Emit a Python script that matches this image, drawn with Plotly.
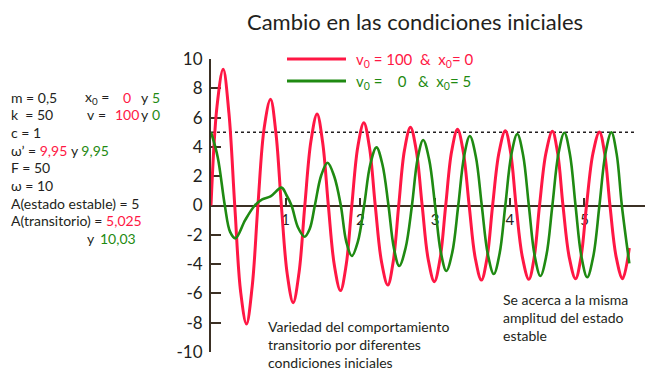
import plotly.graph_objects as go

# ---------------- data ----------------
# red: v0 = 100 & x0 = 0
red_t = [0, 0.081, 0.163, 0.240, 0.318, 0.397, 0.475, 0.552, 0.628, 0.712,
         0.797, 0.870, 0.942, 1.021, 1.10, 1.178, 1.256, 1.338, 1.42, 1.495,
         1.571, 1.652, 1.733, 1.81, 1.885, 1.965, 2.046, 2.122, 2.199, 2.283,
         2.367, 2.44, 2.513, 2.59, 2.67, 2.748, 2.827, 2.908, 2.99, 3.066,
         3.142, 3.221, 3.30, 3.378, 3.456, 3.538, 3.62, 3.695, 3.77, 3.855,
         3.94, 4.012, 4.084, 4.17, 4.255, 4.326, 4.398, 4.484, 4.57, 4.641,
         4.712, 4.796, 4.88, 4.953, 5.027, 5.113, 5.20, 5.27, 5.341, 5.425,
         5.51, 5.60]
red_x = [0, 6.8, 9.30, 6.3, 0, -5.9, -8.09, -5.5, 0, 5.3,
         7.25, 4.9, 0, -4.7, -6.63, -4.6, 0, 4.4, 6.25, 4.3,
         0, -4.1, -5.81, -4.05, 0, 4.0, 5.65, 3.95, 0, -3.85,
         -5.43, -3.8, 0, 3.78, 5.34, 3.75, 0, -3.68, -5.20, -3.66,
         0, 3.68, 5.20, 3.64, 0, -3.6, -5.09, -3.6, 0, 3.6,
         5.10, 3.58, 0, -3.56, -5.04, -3.56, 0, 3.58, 5.06, 3.56,
         0, -3.54, -5.00, -3.54, 0, 3.55, 5.02, 3.55, 0, -3.54,
         -5.00, -2.9]

# green: v0 = 0 & x0 = 5
green_t = [0, 0.09, 0.185, 0.256, 0.328, 0.457, 0.586, 0.685, 0.797, 0.944,
           1.011, 1.078, 1.165, 1.252, 1.321, 1.39, 1.475, 1.56, 1.649, 1.738,
           1.81, 1.885, 1.967, 2.05, 2.132, 2.215, 2.295, 2.376, 2.448, 2.52,
           2.605, 2.69, 2.765, 2.84, 2.92, 3.0, 3.075, 3.15, 3.23, 3.31,
           3.388, 3.465, 3.545, 3.625, 3.705, 3.786, 3.863, 3.94, 4.02, 4.10,
           4.178, 4.255, 4.332, 4.41, 4.49, 4.57, 4.65, 4.73, 4.805, 4.88,
           4.958, 5.036, 5.118, 5.20, 5.28, 5.36, 5.43, 5.50, 5.60]
green_x = [5.0, 3.3, 0, -1.8, -2.24, -1.0, 0, 0.42, 0.62, 1.22,
           0.7, 0, -1.5, -2.13, -1.6, 0, 2.05, 2.92, 2.0, 0,
           -2.45, -3.45, -2.45, 0, 2.8, 3.97, 2.8, 0, -2.9, -4.13,
           -2.9, 0, 3.15, 4.47, 3.15, 0, -3.15, -4.47, -3.2, 0,
           3.35, 4.74, 3.35, 0, -3.3, -4.68, -3.3, 0, 3.45, 4.88,
           3.45, 0, -3.4, -4.81, -3.4, 0, 3.5, 4.97, 3.5, 0,
           -3.46, -4.90, -3.46, 0, 3.54, 5.0, 3.54, 0, -3.95]

steady_amplitude = 5
steady_line_end = 5.69
x_ticks = [1, 2, 3, 4, 5]
y_ticks = [-10, -8, -6, -4, -2, 0, 2, 4, 6, 8, 10]
y_tick_labels = ["-10", "-8", "-6", "-4", "-2", "0", "2", "4", "6", "8", "10"]
x_range = [0, 5.81]
y_range = [-10, 10]

# ---------------- styling ----------------
RED = "#ff1744"
GREEN = "#1f8a12"
INK = "#231f20"
AXIS = "#3b3024"
FONT = "Lato, 'Open Sans', sans-serif"

W, H = 650, 376
L, R, T, B = 211, 5, 59, 24
PW, PH = W - L - R, H - T - B


def px_x(px):
    return (px - L) / PW


def px_y(py):
    return (H - B - py) / PH


fig = go.Figure()
fig.add_trace(go.Scatter(x=red_t, y=red_x, mode="lines",
                         line=dict(color=RED, width=3, shape="spline", smoothing=1.0),
                         name="v0 = 100 & x0 = 0", showlegend=False))
fig.add_trace(go.Scatter(x=green_t, y=green_x, mode="lines",
                         line=dict(color=GREEN, width=2.6, shape="spline", smoothing=1.0),
                         name="v0 = 0 & x0 = 5", showlegend=False))

fig.add_shape(type="line", xref="x", yref="y", x0=0, x1=steady_line_end,
              y0=steady_amplitude, y1=steady_amplitude,
              line=dict(color=INK, width=1.6, dash="dot"), layer="below")

annotations = []


def txt(text, px, py, size=14, color=INK, anchor="left"):
    annotations.append(dict(text=text, x=px_x(px), y=px_y(py), xref="paper", yref="paper",
                            xanchor=anchor, yanchor="middle", align="left", showarrow=False,
                            font=dict(family=FONT, size=size, color=color)))


def c(s, col):
    return f"<span style='color:{col}'>{s}</span>"


# legend (manual)
for py, col in [(59, RED), (81, GREEN)]:
    fig.add_shape(type="line", xref="paper", yref="paper", x0=px_x(287), x1=px_x(346),
                  y0=px_y(py), y1=px_y(py), line=dict(color=col, width=3))
txt("v<sub>0</sub> = 100 &nbsp;&amp;&nbsp; x<sub>0</sub>= 0", 354, 60, 15, RED)
txt("v<sub>0</sub> = &nbsp;&nbsp; 0 &nbsp; &amp;&nbsp; x<sub>0</sub>= 5", 354, 82, 15, GREEN)

# left parameter block
txt("m = 0,5", 9, 97)
txt("k &nbsp;= 50", 9, 114)
txt("c = 1", 9, 132)
txt("ω’ = " + c("9,95", RED) + " y " + c("9,95", GREEN), 9, 150)
txt("F = 50", 9, 167)
txt("ω = 10", 9, 185)
txt("A(estado estable) = 5", 9, 203)
txt("A(transitorio) = " + c("5,025", RED), 9, 220)
txt("y", 85, 238)
txt("10,03", 98, 238, color=GREEN)
txt("x<sub>0</sub> =", 83, 97)
txt("0", 121, 97, color=RED)
txt("y", 139, 97)
txt("5", 150, 97, color=GREEN)
txt("v", 85, 114)
txt("=", 96, 114)
txt("100", 113, 114, color=RED)
txt("y", 139, 114)
txt("0", 150, 114, color=GREEN)

# notes inside plot
txt("Variedad del comportamiento<br>transitorio por diferentes<br>condiciones iniciales", 266, 344)
txt("Se acerca a la misma<br>amplitud del estado<br>estable", 501, 317)

fig.update_layout(
    width=W, height=H,
    margin=dict(l=L, r=R, t=T, b=B, pad=0),
    paper_bgcolor="white", plot_bgcolor="white",
    showlegend=False,
    title=dict(text="Cambio en las condiciones iniciales", x=415 / W, xref="container",
               xanchor="center", y=1 - 22 / H, yref="container", yanchor="middle",
               font=dict(family=FONT, size=22, color=INK)),
    annotations=annotations,
    font=dict(family=FONT, color=INK),
)
fig.update_xaxes(range=x_range, anchor="free", position=0.5, showline=True,
                 linecolor=AXIS, linewidth=2, ticks="inside", ticklen=7, tickwidth=1.5,
                 tickcolor=AXIS, tickvals=x_ticks, showgrid=False, zeroline=False,
                 tickfont=dict(family=FONT, size=15, color=INK), layer="below traces")
fig.update_yaxes(range=y_range, showline=True, linecolor=AXIS, linewidth=2,
                 ticks="inside", ticklen=10, tickwidth=1.8, tickcolor=AXIS,
                 tickvals=y_ticks, ticktext=y_tick_labels, showgrid=False, zeroline=False,
                 ticklabelstandoff=3,
                 tickfont=dict(family=FONT, size=17, color=INK), layer="below traces")

fig.write_html("out.html", config={"displayModeBar": False},
               post_script="document.body.style.margin='0px';document.body.style.overflow='hidden';")
